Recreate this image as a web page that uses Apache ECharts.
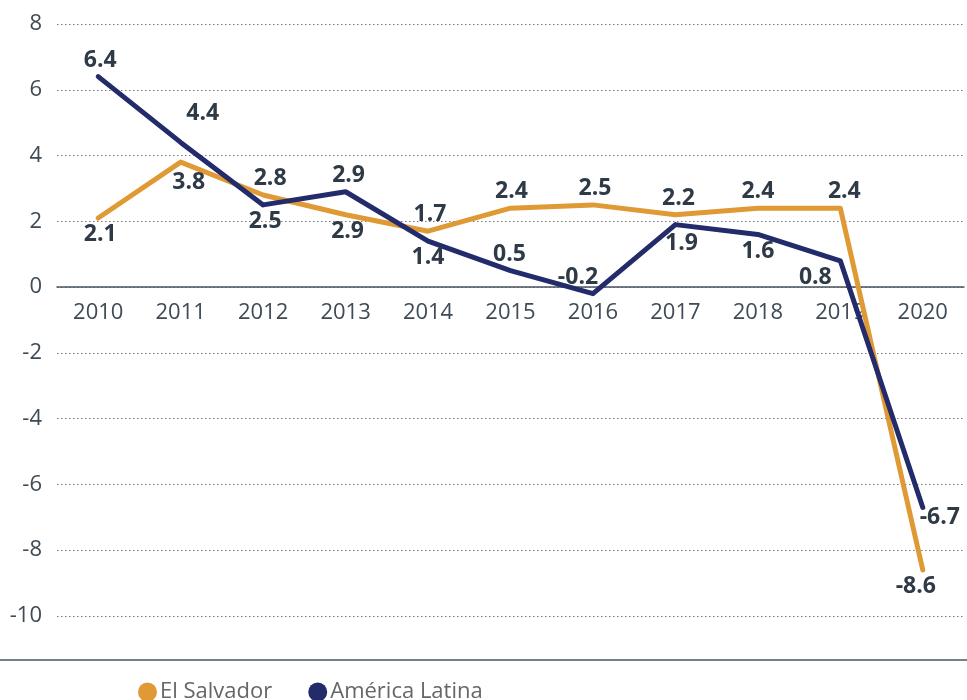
<!DOCTYPE html>
<html>
<head>
<meta charset="utf-8">
<script src="https://cdn.jsdelivr.net/npm/echarts@6/dist/echarts.min.js"></script>
<style>
  html, body { margin: 0; padding: 0; background: #fff; }
  #chart { width: 967px; height: 700px; }
</style>
</head>
<body>
<div id="chart"></div>
<script>
var years = ['2010', '2011', '2012', '2013', '2014', '2015', '2016', '2017', '2018', '2019', '2020'];
var elSalvador = [2.1, 3.8, 2.8, 2.2, 1.7, 2.4, 2.5, 2.2, 2.4, 2.4, -8.6];
var elSalvadorLabels = ['2.1', '3.8', '2.8', '2.9', '1.7', '2.4', '2.5', '2.2', '2.4', '2.4', '-8.6'];
var americaLatina = [6.4, 4.4, 2.5, 2.9, 1.4, 0.5, -0.2, 1.9, 1.6, 0.8, -6.7];
var americaLatinaLabels = ['6.4', '4.4', '2.5', '2.9', '1.4', '0.5', '-0.2', '1.9', '1.6', '0.8', '-6.7'];
var yTicks = [-10, -8, -6, -4, -2, 0, 2, 4, 6, 8];

// where each label sits around its point
var esPlace = [
    ['bottom', [2, 0]], ['bottom', [8, 4]], ['top', [7, 0]], ['bottom', [2, 0]], ['top', [2, 0]],
    ['top', [1, 0]], ['top', [2, 0]], ['top', [3, 0]], ['top', [0, 0]], ['top', [4, 0]], ['bottom', [-7, 0]]
];
var alPlace = [
    ['top', [2, 0]], ['top', [22, -12]], ['bottom', [2, 0]], ['top', [3, 0]], ['bottom', [0, 0]],
    ['top', [-1, 0]], ['top', [-15, 0]], ['bottom', [6, 2]], ['bottom', [0, 0]], ['bottom', [-25, 0]], ['bottom', [17, -7]]
];

function buildData(values, labels, place) {
    return values.map(function (v, i) {
        return {
            value: v,
            label: {
                position: place[i][0],
                offset: place[i][1],
                formatter: labels[i]
            }
        };
    });
}

var labelStyle = {
    show: true,
    color: '#2e3a45',
    fontFamily: 'Open Sans',
    fontWeight: 'bold',
    fontSize: 23,
    distance: 5
};

var gridTop = 24, gridBottom = 84;
var plotH = 700 - gridTop - gridBottom;
// pixels between the bottom of the grid and the zero line
var zeroShift = plotH * (0 - yTicks[0]) / (yTicks[yTicks.length - 1] - yTicks[0]);

var chart = echarts.init(document.getElementById('chart'));
var option = {
    animation: false,
    color: ['#E09A35', '#232B6B'],
    grid: { left: 57, right: 3, top: gridTop, bottom: gridBottom },
    legend: {
        left: 133,
        top: 676,
        icon: 'circle',
        itemWidth: 19,
        itemHeight: 19,
        itemGap: 36,
        textStyle: { color: '#666', fontSize: 22, fontFamily: 'Open Sans', padding: [0, 0, 0, -2] },
        data: ['El Salvador', 'América Latina']
    },
    xAxis: {
        type: 'category',
        data: years,
        boundaryGap: true,
        offset: -zeroShift,
        axisLine: { onZero: false, lineStyle: { color: '#4a5560', width: 1.5 } },
        axisTick: { show: false },
        axisLabel: { color: '#3e4a55', fontSize: 22, fontFamily: 'Open Sans', margin: 15 }
    },
    yAxis: {
        type: 'value',
        min: yTicks[0],
        max: yTicks[yTicks.length - 1],
        interval: 2,
        axisLine: { show: false },
        axisTick: { show: false },
        axisLabel: { color: '#3e4a55', fontSize: 22, fontFamily: 'Open Sans', margin: 15 },
        splitLine: { lineStyle: { color: '#777', type: [1.5, 2.5], width: 1 } }
    },
    graphic: [{
        type: 'line',
        shape: { x1: 0, y1: 660, x2: 967, y2: 660 },
        style: { stroke: '#4a5560', lineWidth: 1.5 }
    }],
    series: [
        {
            name: 'El Salvador',
            type: 'line',
            symbol: 'circle',
            symbolSize: 0,
            lineStyle: { width: 5, cap: 'round', join: 'round' },
            label: labelStyle,
            data: buildData(elSalvador, elSalvadorLabels, esPlace)
        },
        {
            name: 'América Latina',
            type: 'line',
            symbol: 'circle',
            symbolSize: 0,
            lineStyle: { width: 5, cap: 'round', join: 'round' },
            label: labelStyle,
            data: buildData(americaLatina, americaLatinaLabels, alPlace)
        }
    ]
};
chart.setOption(option);
</script>
</body>
</html>
